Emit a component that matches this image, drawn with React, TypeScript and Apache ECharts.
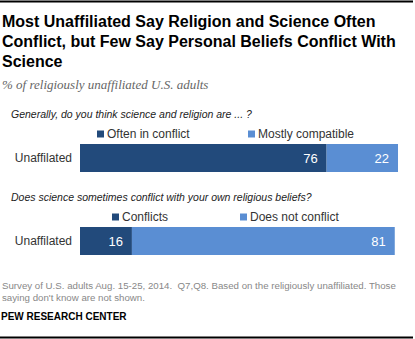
import React, { useEffect, useRef } from "react";
import * as echarts from "echarts";

const categories = ["Unaffilated"];
const q1Names = ["Often in conflict", "Mostly compatible"];
const q1Values = [[76], [22]];
const q2Names = ["Conflicts", "Does not conflict"];
const q2Values = [[16], [81]];
const colors = ["#224a7b", "#5a8ed3"];

const titleLines = [
  "Most Unaffiliated Say Religion and Science Often",
  "Conflict, but Few Say Personal Beliefs Conflict With",
  "Science",
];
const subtitle = "% of religiously unaffiliated U.S. adults";
const question1 = "Generally, do you think science and religion are ... ?";
const question2 = "Does science sometimes conflict with your own religious beliefs?";
const noteLines = [
  "Survey of U.S. adults Aug. 15-25, 2014.  Q7,Q8. Based on the religiously unaffiliated. Those",
  "saying don't know are not shown.",
];
const source = "PEW RESEARCH CENTER";

const SANS = "'Liberation Sans', Arial, sans-serif";

export default function App() {
  const ref = useRef<HTMLDivElement>(null);
  useEffect(() => {
    if (!ref.current) return;
    const chart = echarts.init(ref.current, null, { renderer: "svg" });
    const grids = [
      { left: 80, top: 144, width: 324.5, height: 28 },
      { left: 80, top: 227, width: 324.5, height: 28 },
    ];
    const mkSeries = (names: string[], values: number[][], gi: number) =>
      names.map((n, i) => ({
        name: n,
        type: "bar",
        stack: "s" + gi,
        xAxisIndex: gi,
        yAxisIndex: gi,
        barWidth: 28,
        data: values[i],
        itemStyle: { color: colors[i] },
        label: {
          show: true,
          position: "insideRight",
          distance: 9,
          color: "#fff",
          fontSize: 13,
          fontFamily: SANS,
        },
      }));
    const legendItem = (name: string, left: number, top: number) => ({
      data: [name],
      left,
      top,
      icon: "rect",
      itemWidth: 7,
      itemHeight: 7,
      itemGap: 4,
      padding: 0,
      selectedMode: false,
      textStyle: { fontSize: 12, color: "#333", fontFamily: SANS, padding: [0, 0, 0, -2] },
    });
    const texts: any[] = [];
    titleLines.forEach((t, i) =>
      texts.push({
        type: "text",
        left: 2,
        top: 13 + i * 20,
        style: { text: t, font: `bold 16px ${SANS}`, fill: "#000" },
      })
    );
    texts.push({
      type: "text",
      left: 2,
      top: 78,
      style: { text: subtitle, font: `italic 13px 'Liberation Serif', serif`, fill: "#666" },
    });
    texts.push({
      type: "text",
      left: 11,
      top: 108,
      style: { text: question1, font: `italic 10.5px ${SANS}`, fill: "#222" },
    });
    texts.push({
      type: "text",
      left: 11,
      top: 191,
      style: { text: question2, font: `italic 10.5px ${SANS}`, fill: "#222" },
    });
    noteLines.forEach((t, i) =>
      texts.push({
        type: "text",
        left: 2,
        top: 280 + i * 12,
        style: { text: t, font: `9.7px ${SANS}`, fill: "#888" },
      })
    );
    texts.push({
      type: "text",
      left: 1,
      top: 311,
      style: { text: source, font: `bold 10px ${SANS}`, fill: "#000" },
    });
    texts.push({
      type: "rect",
      shape: { x: 0, y: 0.5, width: 413, height: 2 },
      style: { fill: "#000" },
    });
    texts.push({
      type: "rect",
      shape: { x: 0, y: 336.5, width: 413, height: 2 },
      style: { fill: "#000" },
    });
    chart.setOption({
      animation: false,
      backgroundColor: "#fff",
      grid: grids,
      xAxis: grids.map((_, i) => ({
        type: "value",
        gridIndex: i,
        min: 0,
        max: 100,
        show: false,
      })),
      yAxis: grids.map((_, i) => ({
        type: "category",
        gridIndex: i,
        data: categories,
        axisLine: { show: false },
        axisTick: { show: false },
        axisLabel: { color: "#333", fontSize: 12, margin: 8, fontFamily: SANS },
      })),
      legend: [
        legendItem(q1Names[0], 97, 128),
        legendItem(q1Names[1], 248, 128),
        legendItem(q2Names[0], 112, 211),
        legendItem(q2Names[1], 240, 211),
      ],
      series: [...mkSeries(q1Names, q1Values, 0), ...mkSeries(q2Names, q2Values, 1)],
      graphic: texts,
    });
    return () => chart.dispose();
  }, []);
  return (
    <div
      ref={ref}
      style={{ position: "fixed", left: 0, top: 0, width: 415, height: 339 }}
    />
  );
}
